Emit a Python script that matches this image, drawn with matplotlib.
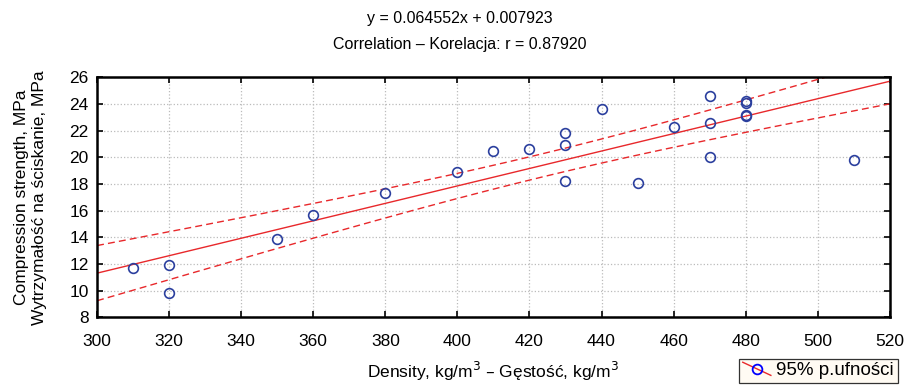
import numpy as np
import matplotlib.pyplot as plt
from matplotlib.lines import Line2D
from matplotlib.legend_handler import HandlerBase

plt.rcParams["font.family"] = ["Liberation Sans", "DejaVu Sans"]
plt.rcParams["xtick.labelsize"] = 12.5
plt.rcParams["ytick.labelsize"] = 12.5
plt.rcParams["axes.labelsize"] = 12.5

# data
density = [310, 320, 320, 350, 360, 380, 400, 410, 420, 430, 430, 430,
           440, 450, 460, 470, 470, 470, 480, 480, 480, 480, 510]
strength = [11.7, 11.9, 9.8, 13.85, 15.65, 17.3, 18.9, 20.45, 20.6, 21.85, 20.9, 18.2,
            23.6, 18.1, 22.25, 24.6, 22.6, 20.0, 24.2, 24.1, 23.2, 23.1, 19.8]
title1 = "y = 0.064552x + 0.007923"
title2 = "Correlation \u2013 Korelacja: r = 0.87920"
legend_label = "95% p.ufno\u015bci"

x = np.array(density, float)
y = np.array(strength, float)
n = len(x)
b, a = np.polyfit(x, y, 1)
xs = np.linspace(300, 520, 200)
yfit = a + b * xs
res = y - (a + b * x)
s = np.sqrt(np.sum(res ** 2) / (n - 2))
t = 2.08
half = t * s * np.sqrt(1 / n + (xs - x.mean()) ** 2 / np.sum((x - x.mean()) ** 2))


# legend key: red diagonal line with a blue circle on it
class DiagHandler(HandlerBase):
    def create_artists(self, legend, orig, xd, yd, w, h, fontsize, trans):
        ln = Line2D([-xd, -xd + w], [-yd + h, -yd], color="#e8282b", lw=1.0, transform=trans)
        mk = Line2D([-xd + w / 2], [-yd + h / 2], marker="o", mfc="none", mec="blue",
                    ms=7, mew=1.3, ls="none", transform=trans)
        return [ln, mk]


fig = plt.figure(figsize=(9.07, 3.85), dpi=100)
ax = fig.add_axes([0.107, 0.176, 0.874, 0.623])

ax.plot(xs, yfit, color="#e8282b", lw=1.0)
ax.plot(xs, yfit + half, color="#e8282b", lw=1.0, ls=(0, (5, 3)))
ax.plot(xs, yfit - half, color="#e8282b", lw=1.0, ls=(0, (5, 3)))
ax.plot(x, y, "o", mfc="none", mec="#2b3f9e", ms=7, mew=1.2)

ax.set_xlim(300, 520)
ax.set_ylim(8, 26)
ax.set_xticks(np.arange(300, 521, 20))
ax.set_yticks(np.arange(8, 27, 2))
ax.grid(color="#bbbbbb", ls=":", lw=0.9)
ax.tick_params(direction="in", top=True, right=True, length=4, width=1.2)
ax.tick_params(axis="y", pad=6)
ax.tick_params(axis="x", pad=12)
for sp in ax.spines.values():
    sp.set_linewidth(1.8)

ax.set_xlabel("Density, kg/m$^3$ \u2013 G\u0119sto\u015b\u0107, kg/m$^3$", labelpad=8)
ax.set_ylabel("Compression strength, MPa\nWytrzyma\u0142o\u015b\u0107 na \u015bciskanie, MPa",
              labelpad=16, linespacing=1.3)

narrow = ["Liberation Sans Narrow", "Liberation Sans", "DejaVu Sans"]
fig.text(0.507, 0.953, title1, ha="center", va="center", fontsize=11.5, family=narrow)
fig.text(0.507, 0.885, title2, ha="center", va="center", fontsize=11.5, family=narrow)

h = Line2D([], [])
leg = fig.legend([h], [legend_label], handler_map={Line2D: DiagHandler()},
                 loc="lower right", bbox_to_anchor=(0.992, 0.0),
                 fontsize=13.5, frameon=True, fancybox=False, handlelength=1.5,
                 borderpad=0.2, handletextpad=0.3, borderaxespad=0.1)
leg.get_frame().set_facecolor("#fffaf0")
leg.get_frame().set_edgecolor("black")
leg.get_frame().set_linewidth(0.9)

plt.savefig("out.png", dpi=100)
